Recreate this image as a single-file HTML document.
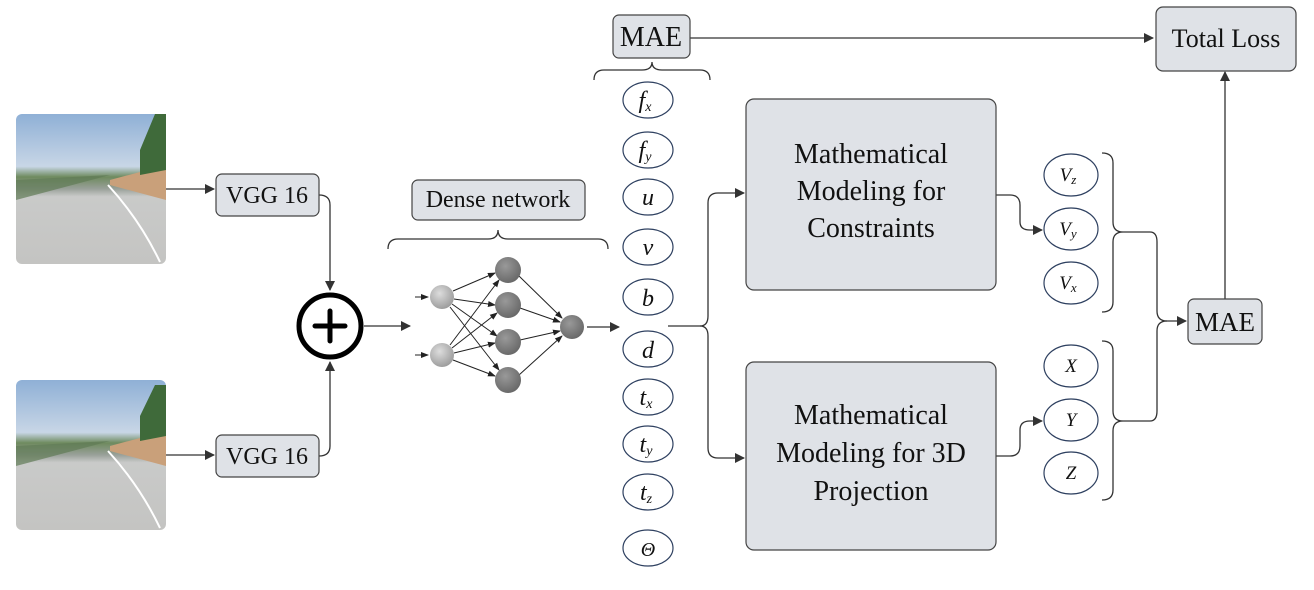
<!DOCTYPE html>
<html><head><meta charset="utf-8"><style>
html,body{margin:0;padding:0;background:#fff;}
svg text{font-family:"Liberation Serif","DejaVu Serif",serif;}
</style></head><body>
<svg width="1314" height="585" viewBox="0 0 1314 585" xmlns="http://www.w3.org/2000/svg" font-family="Liberation Serif, serif">
<defs>
<marker id="a" markerWidth="10" markerHeight="10" refX="9" refY="5" orient="auto" markerUnits="userSpaceOnUse"><path d="M0,0 L10,5 L0,10 z" fill="#333"/></marker>
<marker id="s" markerWidth="8" markerHeight="8" refX="7" refY="4" orient="auto" markerUnits="userSpaceOnUse"><path d="M0,1 L8,4 L0,7 z" fill="#222"/></marker>
<linearGradient id="img" x1="0" y1="0" x2="0" y2="1">
<stop offset="0" stop-color="#8fb0d6"/><stop offset="0.35" stop-color="#c8d6e6"/>
<stop offset="0.42" stop-color="#6e8a5e"/><stop offset="0.5" stop-color="#9aa19a"/>
<stop offset="0.55" stop-color="#c9cac9"/><stop offset="1" stop-color="#c4c4c2"/></linearGradient>
<radialGradient id="n1" cx="0.4" cy="0.35" r="0.7"><stop offset="0" stop-color="#ddd"/><stop offset="1" stop-color="#999"/></radialGradient>
<radialGradient id="n2" cx="0.4" cy="0.35" r="0.7"><stop offset="0" stop-color="#999"/><stop offset="1" stop-color="#666"/></radialGradient>
</defs>

<g>
<rect x="16" y="114" width="150" height="150" rx="6" fill="url(#img)"/>
<path d="M110,180 L166,165 L166,200 L110,185z" fill="#c9a07a"/>
<path d="M140,150 L155,114 L166,114 L166,170 L140,175z" fill="#3f6a3a"/>
<path d="M16,180 L110,175 L16,200z" fill="#5f7a55" opacity="0.7"/>
<path d="M108,185 Q140,220 160,262" stroke="#fff" stroke-width="2" fill="none"/>
<rect x="16" y="380" width="150" height="150" rx="6" fill="url(#img)"/>
<path d="M110,446 L166,431 L166,466 L110,451z" fill="#c9a07a"/>
<path d="M140,416 L155,385 L166,385 L166,436 L140,441z" fill="#3f6a3a"/>
<path d="M16,446 L110,441 L16,466z" fill="#5f7a55" opacity="0.7"/>
<path d="M108,451 Q140,486 160,528" stroke="#fff" stroke-width="2" fill="none"/>
</g>

<g stroke="#333" stroke-width="1.3" fill="none">
<line x1="166" y1="189" x2="214" y2="189" marker-end="url(#a)"/>
<line x1="166" y1="455" x2="214" y2="455" marker-end="url(#a)"/>
<path d="M319,195 Q330,195 330,205 L330,290" marker-end="url(#a)"/>
<path d="M319,456 Q330,456 330,446 L330,362" marker-end="url(#a)"/>
<line x1="364" y1="326" x2="410" y2="326" marker-end="url(#a)"/>
<line x1="587" y1="327" x2="619" y2="327" marker-end="url(#a)"/>
<path d="M668,326 L700,326 Q708,326 708,316 L708,203 Q708,193 718,193 L744,193" marker-end="url(#a)"/>
<path d="M700,326 Q708,326 708,336 L708,448 Q708,458 718,458 L744,458" marker-end="url(#a)"/>
<line x1="690" y1="38" x2="1153" y2="38" marker-end="url(#a)"/>
<path d="M996,195 L1010,195 Q1020,195 1020,205 L1020,222 Q1020,230 1030,230 L1042,230" marker-end="url(#a)"/>
<path d="M996,456 L1010,456 Q1020,456 1020,446 L1020,430 Q1020,421 1030,421 L1042,421" marker-end="url(#a)"/>
<path d="M1102,153 Q1113,153 1113,163 L1113,222 Q1113,232 1123,232 Q1113,232 1113,242 L1113,302 Q1113,312 1102,312"/>
<path d="M1102,341 Q1113,341 1113,351 L1113,411 Q1113,421 1123,421 Q1113,421 1113,431 L1113,490 Q1113,500 1102,500"/>
<path d="M1123,232 L1150,232 Q1157,232 1157,242 L1157,311 Q1157,321 1167,321 L1186,321" marker-end="url(#a)"/>
<path d="M1123,421 L1150,421 Q1157,421 1157,411 L1157,331 Q1157,321 1167,321"/>
<line x1="1225" y1="300" x2="1225" y2="72" marker-end="url(#a)"/>
<path d="M388,249 Q388,239 398,239 L488,239 Q498,239 498,230 Q498,239 508,239 L598,239 Q608,239 608,249"/>
<path d="M594,80 Q594,70 604,70 L642,70 Q652,70 652,62 Q652,70 662,70 L700,70 Q710,70 710,80"/>
</g>

<g fill="#dfe2e7" stroke="#444" stroke-width="1.2">
<rect x="216" y="174" width="103" height="42" rx="6"/>
<rect x="216" y="435" width="103" height="42" rx="6"/>
<rect x="412" y="180" width="173" height="40" rx="6"/>
<rect x="613" y="15" width="77" height="43" rx="6"/>
<rect x="1156" y="7" width="140" height="64" rx="7"/>
<rect x="1188" y="299" width="74" height="45" rx="6"/>
<rect x="746" y="99" width="250" height="191" rx="8"/>
<rect x="746" y="362" width="250" height="188" rx="8"/>
</g>
<g font-size="24" fill="#111" text-anchor="middle" font-family="Liberation Serif, serif">
<text x="267" y="203">VGG 16</text>
<text x="267" y="464">VGG 16</text>
<text x="498" y="207">Dense network</text>
<text x="651" y="46" font-size="28">MAE</text>
<text x="1226" y="47" font-size="26">Total Loss</text>
<text x="1225" y="331" font-size="27">MAE</text>
<text x="871" y="163" font-size="28">Mathematical</text>
<text x="871" y="200" font-size="28">Modeling for</text>
<text x="871" y="237" font-size="28">Constraints</text>
<text x="871" y="424" font-size="28">Mathematical</text>
<text x="871" y="462" font-size="28">Modeling for 3D</text>
<text x="871" y="500" font-size="28">Projection</text>
</g>

<circle cx="330" cy="326" r="31" fill="#fff" stroke="#000" stroke-width="5"/>
<path d="M315,326 H345 M330,311 V341" stroke="#000" stroke-width="5" stroke-linecap="round"/>

<g stroke="#222" stroke-width="1" fill="none">
<line x1="415" y1="297" x2="428" y2="297" marker-end="url(#s)"/>
<line x1="415" y1="355" x2="428" y2="355" marker-end="url(#s)"/>
<g marker-end="url(#s)">
<line x1="453" y1="291" x2="495" y2="273"/><line x1="454" y1="299" x2="495" y2="305"/>
<line x1="452" y1="304" x2="497" y2="336"/><line x1="450" y1="307" x2="499" y2="370"/>
<line x1="450" y1="345" x2="499" y2="280"/><line x1="452" y1="348" x2="497" y2="313"/>
<line x1="454" y1="353" x2="495" y2="343"/><line x1="453" y1="360" x2="495" y2="376"/>
<line x1="519" y1="276" x2="562" y2="318"/><line x1="520" y1="308" x2="560" y2="322"/>
<line x1="520" y1="340" x2="560" y2="331"/><line x1="519" y1="375" x2="562" y2="336"/>
</g></g>
<g fill="url(#n1)"><circle cx="442" cy="297" r="12"/><circle cx="442" cy="355" r="12"/></g>
<g fill="url(#n2)"><circle cx="508" cy="270" r="13"/><circle cx="508" cy="305" r="13"/><circle cx="508" cy="342" r="13"/><circle cx="508" cy="380" r="13"/><circle cx="572" cy="327" r="12"/></g>

<g fill="#fff" stroke="#2e4060" stroke-width="1.2">
<ellipse cx="648" cy="100" rx="25" ry="18"/><ellipse cx="648" cy="150" rx="25" ry="18"/>
<ellipse cx="648" cy="197" rx="25" ry="18"/><ellipse cx="648" cy="247" rx="25" ry="18"/>
<ellipse cx="648" cy="297" rx="25" ry="18"/><ellipse cx="648" cy="349" rx="25" ry="18"/>
<ellipse cx="648" cy="397" rx="25" ry="18"/><ellipse cx="648" cy="444" rx="25" ry="18"/>
<ellipse cx="648" cy="492" rx="25" ry="18"/><ellipse cx="648" cy="548" rx="25" ry="18"/>
<ellipse cx="1071" cy="175" rx="27" ry="21"/><ellipse cx="1071" cy="229" rx="27" ry="21"/>
<ellipse cx="1071" cy="283" rx="27" ry="21"/><ellipse cx="1071" cy="366" rx="27" ry="21"/>
<ellipse cx="1071" cy="420" rx="27" ry="21"/><ellipse cx="1071" cy="473" rx="27" ry="21"/>
</g>
<g font-style="italic" font-size="24" fill="#111" text-anchor="middle" font-family="Liberation Serif, serif">
<text x="645" y="108">f<tspan font-size="14" dy="3">x</tspan></text>
<text x="645" y="158">f<tspan font-size="14" dy="3">y</tspan></text>
<text x="648" y="205">u</text>
<text x="648" y="255">v</text>
<text x="648" y="306">b</text>
<text x="648" y="358">d</text>
<text x="646" y="405">t<tspan font-size="14" dy="3">x</tspan></text>
<text x="646" y="452">t<tspan font-size="14" dy="3">y</tspan></text>
<text x="646" y="500">t<tspan font-size="14" dy="3">z</tspan></text>
<text x="648" y="556" font-size="20">Θ</text>
<g font-size="19">
<text x="1068" y="181">V<tspan font-size="13" dy="3">z</tspan></text>
<text x="1068" y="235">V<tspan font-size="13" dy="3">y</tspan></text>
<text x="1068" y="289">V<tspan font-size="13" dy="3">x</tspan></text>
<text x="1071" y="372">X</text>
<text x="1071" y="426">Y</text>
<text x="1071" y="479">Z</text>
</g></g>
</svg>
</body></html>
